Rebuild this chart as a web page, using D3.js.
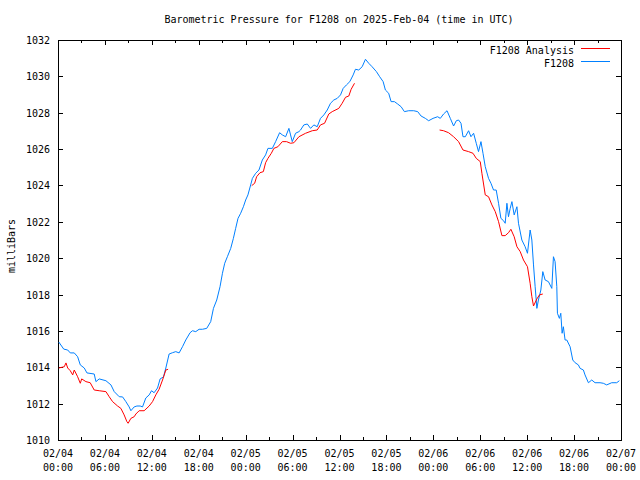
<!DOCTYPE html>
<html>
<head>
<meta charset="utf-8">
<script src="https://cdn.jsdelivr.net/npm/d3@7"></script>
<style>
  html, body { margin: 0; padding: 0; background: #fff; }
  svg text { font-family: "DejaVu Sans Mono", "Liberation Mono", monospace; font-size: 10px; fill: #000; }
</style>
</head>
<body>
<svg id="chart" width="640" height="480"></svg>
<script>
// ---- Data (hours since 2025-02-04 00:00 UTC, pressure in mb) ----
const titleText = "Barometric Pressure for F1208 on 2025-Feb-04 (time in UTC)";
const yLabel = "milliBars";
const seriesNames = ["F1208 Analysis", "F1208"];
const yTicks = [1010, 1012, 1014, 1016, 1018, 1020, 1022, 1024, 1026, 1028, 1030, 1032];
const xTickHours = [0, 6, 12, 18, 24, 30, 36, 42, 48, 54, 60, 66, 72];

const obsHours = [0.1,0.73,1.24,1.57,2.08,2.51,2.85,3.36,3.70,4.63,4.85,5.27,6.13,6.77,7.19,7.83,8.26,8.68,9.10,9.32,9.74,10.09,10.51,10.81,11.23,11.66,11.96,12.29,12.73,13.06,13.49,13.79,14.21,14.64,15.06,15.49,15.92,16.34,16.89,17.20,17.62,18.04,18.47,19.02,19.53,19.88,20.30,20.72,21.03,21.32,21.66,22.09,22.43,22.72,23.02,23.36,23.71,24.00,24.29,24.64,24.86,25.28,25.70,26.13,26.55,26.85,27.41,27.83,28.34,28.69,29.11,29.53,29.74,29.96,30.38,30.81,31.02,31.44,31.88,32.30,32.72,33.15,33.57,34.00,34.43,34.85,35.27,35.71,36.13,36.47,36.89,37.32,37.75,38.04,38.46,38.90,39.32,39.74,40.17,40.72,41.14,41.58,41.87,42.29,42.60,43.02,43.44,43.88,44.30,44.85,45.49,46.00,46.43,46.98,47.40,47.96,48.55,48.89,49.31,49.75,50.17,50.59,50.94,51.23,51.54,51.79,52.09,52.51,52.81,53.15,53.49,53.78,54.09,54.35,54.64,55.06,55.37,55.70,56.04,56.34,56.64,56.98,57.19,57.41,57.61,57.83,58.05,58.34,58.69,58.89,59.32,59.74,60.04,60.38,60.60,60.81,61.02,61.24,61.44,61.75,62.00,62.30,62.72,63.15,63.36,63.57,63.79,63.87,64.12,64.30,64.47,64.63,64.85,65.07,65.49,65.83,66.13,66.55,66.77,67.19,67.40,67.83,68.26,68.68,69.32,69.74,70.17,70.81,71.45,71.79];
const obsValues = [1015.39,1015.00,1014.95,1014.79,1014.79,1014.58,1014.13,1013.96,1013.69,1013.63,1013.21,1013.36,1013.26,1013.03,1012.66,1012.38,1012.37,1012.11,1011.82,1011.61,1011.82,1011.87,1011.87,1011.82,1012.31,1012.48,1012.71,1012.60,1012.86,1013.36,1013.47,1013.96,1014.73,1014.80,1014.86,1014.79,1015.13,1015.50,1015.90,1016.01,1015.96,1016.09,1016.09,1016.14,1016.51,1017.24,1017.70,1018.43,1019.17,1019.72,1020.08,1020.54,1021.09,1021.64,1022.19,1022.47,1022.83,1023.20,1023.48,1024.03,1024.39,1024.67,1024.85,1025.40,1025.68,1026.04,1026.04,1026.41,1026.90,1026.78,1026.68,1027.14,1026.78,1026.41,1026.87,1026.96,1027.05,1027.33,1027.38,1027.14,1027.33,1027.23,1027.69,1027.88,1028.15,1028.52,1028.70,1028.79,1028.98,1029.34,1029.53,1029.71,1030.08,1030.39,1030.35,1030.53,1030.94,1030.72,1030.53,1030.26,1029.98,1029.71,1029.25,1029.07,1028.61,1028.61,1028.48,1028.33,1028.06,1028.11,1028.11,1028.06,1027.82,1027.69,1027.56,1027.69,1027.78,1027.69,1027.93,1028.11,1027.69,1027.27,1027.56,1027.60,1027.42,1026.68,1026.68,1027.01,1026.68,1026.87,1026.32,1025.86,1026.41,1025.77,1025.03,1024.39,1024.12,1023.75,1023.75,1023.02,1022.19,1022.06,1021.92,1023.02,1022.28,1022.74,1023.11,1022.38,1022.83,1021.92,1021.00,1020.63,1020.27,1021.55,1021.00,1019.63,1018.43,1017.24,1017.70,1018.25,1019.26,1018.80,1018.71,1018.34,1020.08,1019.81,1018.43,1016.97,1016.69,1016.97,1015.87,1016.23,1015.50,1015.50,1015.13,1014.40,1014.25,1014.13,1013.94,1013.85,1013.58,1013.15,1013.30,1013.15,1013.15,1013.12,1013.03,1013.15,1013.15,1013.26];

// Analysis series in three separate runs
const anaHours1 = [0.1,0.80,1.02,1.24,1.57,1.88,2.08,2.51,2.85,3.03,3.57,4.12,4.63,5.27,6.13,6.55,6.98,7.62,8.04,8.46,8.81,8.97,9.32,9.74,9.96,10.38,11.02,11.66,12.09,12.51,12.93,13.37,13.79,14.08];
const anaValues1 = [1013.96,1014.03,1014.24,1013.96,1013.81,1013.58,1013.85,1013.48,1013.12,1013.36,1013.21,1013.15,1012.75,1012.71,1012.66,1012.38,1012.11,1011.87,1011.74,1011.38,1011.01,1010.92,1011.19,1011.28,1011.43,1011.61,1011.61,1011.87,1012.11,1012.48,1012.79,1013.30,1013.85,1013.89];
const anaHours2 = [24.77,25.15,25.40,25.83,26.26,26.55,26.85,27.28,27.61,28.12,28.69,29.23,29.74,30.17,30.81,31.66,32.52,33.15,33.57,34.09,34.63,35.07,35.91,36.34,36.77,37.19,37.49,37.92];
const anaValues2 = [1023.99,1024.12,1024.48,1024.70,1024.76,1025.25,1025.49,1025.77,1026.04,1026.13,1026.41,1026.41,1026.32,1026.35,1026.68,1026.87,1027.01,1027.05,1027.33,1027.42,1027.93,1028.06,1028.24,1028.52,1028.85,1028.92,1029.29,1029.62];
const anaHours3 = [48.80,49.31,49.95,50.59,51.23,51.79,52.51,53.07,53.49,54.00,54.21,54.64,55.06,55.49,55.92,56.34,56.77,57.19,57.61,57.92,58.34,58.69,59.11,59.53,60.04,60.38,60.60,60.81,61.24,61.57,62.00];
const anaValues3 = [1027.05,1027.01,1026.90,1026.68,1026.41,1025.95,1025.86,1025.77,1025.49,1025.31,1024.67,1023.48,1023.38,1022.93,1022.56,1022.01,1021.24,1021.24,1021.40,1021.59,1021.18,1020.63,1020.36,1019.90,1019.53,1018.62,1017.88,1017.37,1017.76,1017.98,1018.03];

// ---- Drawing ----
const start = Date.UTC(2025, 1, 4, 0, 0);
const toDate = h => new Date(start + h * 3600000);

const margin = { left: 58, right: 19, top: 40, bottom: 40 };
const W = 640, H = 480;
const svg = d3.select("#chart");

const x = d3.scaleUtc().domain([toDate(0), toDate(72)]).range([margin.left, W - margin.right]);
const y = d3.scaleLinear().domain([1010, 1032]).range([H - margin.bottom, margin.top]);

const fmtDay = d3.utcFormat("%m/%d");
const fmtTime = d3.utcFormat("%H:%M");

const majorTicks = xTickHours.map(toDate);
const minorTicks = xTickHours.slice(0, -1).map(h => toDate(h + 3));

// bottom axis
const gx = svg.append("g").attr("transform", `translate(0,${H - margin.bottom})`);
gx.call(d3.axisBottom(x).tickValues(majorTicks).tickSize(-5).tickFormat(""));
gx.append("g").call(d3.axisBottom(x).tickValues(minorTicks).tickSize(-3).tickFormat(""));
// top axis (mirror)
const gxt = svg.append("g").attr("transform", `translate(0,${margin.top})`);
gxt.call(d3.axisTop(x).tickValues(majorTicks).tickSize(-5).tickFormat(""));
gxt.append("g").call(d3.axisTop(x).tickValues(minorTicks).tickSize(-3).tickFormat(""));
// left axis
const gy = svg.append("g").attr("transform", `translate(${margin.left},0)`);
gy.call(d3.axisLeft(y).tickValues(yTicks).tickSize(-5).tickFormat(d3.format("d")));
// right axis mirror
const gyr = svg.append("g").attr("transform", `translate(${W - margin.right},0)`);
gyr.call(d3.axisRight(y).tickValues(yTicks).tickSize(-5).tickFormat(""));

svg.selectAll(".domain").remove();
svg.selectAll(".tick line").attr("stroke", "#000").attr("shape-rendering", "crispEdges");
gy.selectAll(".tick text").attr("x", -8).attr("dy", "0.35em").style("font-size", "10px").style("font-family", "DejaVu Sans Mono, monospace");

// x labels in two lines
const xl = svg.append("g");
majorTicks.forEach(d => {
  const t = xl.append("text").attr("text-anchor", "middle").attr("x", x(d));
  t.append("tspan").attr("x", x(d)).attr("y", 457).text(fmtDay(d));
  t.append("tspan").attr("x", x(d)).attr("y", 471).text(fmtTime(d));
});

// frame
svg.append("rect")
  .attr("x", margin.left + 0.5).attr("y", margin.top + 0.5)
  .attr("width", W - margin.right - margin.left).attr("height", H - margin.bottom - margin.top)
  .attr("fill", "none").attr("stroke", "#000").attr("stroke-width", 1)
  .attr("shape-rendering", "crispEdges");

// title
svg.append("text").attr("x", 339).attr("y", 23).attr("text-anchor", "middle").text(titleText);
// y label
svg.append("text").attr("transform", "translate(15,246) rotate(-90)").attr("text-anchor", "middle").text(yLabel);

const line = d3.line().x(d => x(toDate(d[0]))).y(d => y(d[1]));

const obs = obsHours.map((h, i) => [h, obsValues[i]]);
const runs = [[anaHours1, anaValues1], [anaHours2, anaValues2], [anaHours3, anaValues3]]
  .map(([hs, vs]) => hs.map((h, i) => [h, vs[i]]));

const colors = { ana: "#ff0000", obs: "#0080ff" };

svg.append("path").datum(obs).attr("d", line)
  .attr("fill", "none").attr("stroke", colors.obs).attr("stroke-width", 1);
runs.forEach(r => {
  svg.append("path").datum(r).attr("d", line)
    .attr("fill", "none").attr("stroke", colors.ana).attr("stroke-width", 1);
});

// legend
const leg = svg.append("g");
[[seriesNames[0], colors.ana, 50], [seriesNames[1], colors.obs, 63]].forEach(([name, c, yy]) => {
  leg.append("text").attr("x", 574).attr("y", yy).attr("dy", "0.35em").attr("text-anchor", "end").text(name);
  leg.append("line").attr("x1", 581).attr("x2", 610).attr("y1", yy - 1.5).attr("y2", yy - 1.5)
    .attr("stroke", c).attr("stroke-width", 1);
});
</script>
</body>
</html>
